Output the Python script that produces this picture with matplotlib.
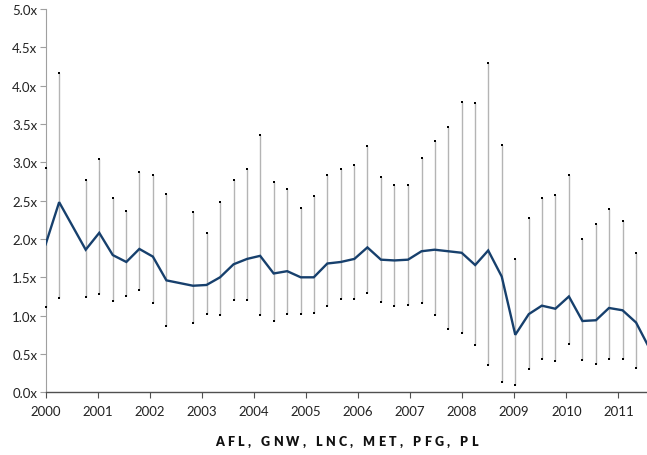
import matplotlib
matplotlib.use("Agg")
import matplotlib.pyplot as plt
from matplotlib.ticker import FuncFormatter, MultipleLocator
import numpy as np

# quarterly observations (two quarters have no data and are left out)
x_years = [2000.00, 2000.26, 2000.77, 2001.03, 2001.29, 2001.55, 2001.80,
           2002.06, 2002.32, 2002.83, 2003.09, 2003.35, 2003.61, 2003.87,
           2004.12, 2004.38, 2004.64, 2004.90, 2005.15, 2005.41, 2005.67,
           2005.93, 2006.18, 2006.44, 2006.70, 2006.96, 2007.22, 2007.47,
           2007.73, 2007.99, 2008.25, 2008.50, 2008.76, 2009.02, 2009.28,
           2009.53, 2009.79, 2010.05, 2010.31, 2010.57, 2010.82, 2011.08,
           2011.34, 2011.60]

high = [2.92, 4.17, 2.77, 3.04, 2.54, 2.36, 2.88, 2.83, 2.59, 2.35, 2.08,
        2.48, 2.77, 2.91, 3.35, 2.74, 2.65, 2.40, 2.56, 2.83, 2.91, 2.97,
        3.21, 2.81, 2.71, 2.70, 3.06, 3.28, 3.46, 3.79, 3.78, 4.30, 3.22,
        1.74, 2.28, 2.53, 2.57, 2.83, 2.00, 2.19, 2.39, 2.24, 1.82, np.nan]

low = [1.11, 1.23, 1.24, 1.28, 1.19, 1.26, 1.34, 1.16, 0.86, 0.90, 1.02,
       1.01, 1.20, 1.20, 1.01, 0.93, 1.02, 1.02, 1.04, 1.13, 1.22, 1.22,
       1.30, 1.18, 1.13, 1.14, 1.17, 1.01, 0.82, 0.77, 0.62, 0.35, 0.13,
       0.10, 0.30, 0.43, 0.41, 0.63, 0.42, 0.37, 0.43, 0.43, 0.32, np.nan]

median = [1.93, 2.48, 1.86, 2.08, 1.79, 1.70, 1.87, 1.77, 1.46, 1.39, 1.40,
          1.50, 1.67, 1.74, 1.78, 1.55, 1.58, 1.50, 1.50, 1.68, 1.70, 1.74,
          1.89, 1.73, 1.72, 1.73, 1.84, 1.86, 1.84, 1.82, 1.66, 1.85, 1.51,
          0.75, 1.02, 1.13, 1.09, 1.25, 0.93, 0.94, 1.10, 1.07, 0.91, 0.57]

year_ticks = list(range(2000, 2012))
xlabel = "AFL, GNW, LNC, MET, PFG, PL"

plt.rcParams['font.family'] = ['Lato', 'DejaVu Sans']

fig = plt.figure(figsize=(6.47, 4.56), dpi=100, facecolor='white')
ax = fig.add_axes([0.0705, 0.1375, 0.9295, 0.8406])

# high-low range bars
ax.vlines(x_years, low, high, color='#b4b4b4', linewidth=1.0, zorder=1)
for ends in (high, low):
    ax.plot(x_years, ends, linestyle='none', marker='s', markersize=2.0,
            markeredgewidth=0, color='black', zorder=4, clip_on=False)

# median line
ax.plot(x_years, median, color='#17406d', linewidth=1.7, zorder=3,
        solid_joinstyle='miter')

ax.set_xlim(2000, 2011.55)
ax.set_ylim(0, 5.0)
ax.set_xticks(year_ticks)
ax.set_xticklabels([str(y) for y in year_ticks])
ax.yaxis.set_major_locator(MultipleLocator(0.5))
ax.yaxis.set_major_formatter(FuncFormatter(lambda v, p: f"{v:.1f}x"))

for side in ['top', 'right']:
    ax.spines[side].set_visible(False)
ax.spines['left'].set_color('#a0a0a0')
ax.spines['bottom'].set_color('#505050')
ax.spines['bottom'].set_linewidth(1.0)
ax.tick_params(axis='y', length=4, width=0.8, color='#a0a0a0',
               labelsize=9.5, labelcolor='#222222', pad=2)
ax.tick_params(axis='x', length=4, width=0.8, color='#505050',
               labelsize=9.5, labelcolor='#222222', pad=5)

# letter-spaced axis title, one glyph at a time
fig.canvas.draw()
renderer = fig.canvas.get_renderer()
track = 3.4
widths = []
for ch in xlabel:
    t = fig.text(0, 0, ch, fontsize=9, fontweight='heavy')
    widths.append(t.get_window_extent(renderer).width)
    t.remove()
total = sum(widths) + track * (len(xlabel) - 1)
cx = 346
x0 = cx - total / 2
for ch, w in zip(xlabel, widths):
    fig.text(x0 / 647, 1 - 442 / 456, ch, fontsize=9, fontweight='heavy',
             color='#111111', ha='left', va='center')
    x0 += w + track

fig.savefig("out.png", dpi=100, facecolor='white')
